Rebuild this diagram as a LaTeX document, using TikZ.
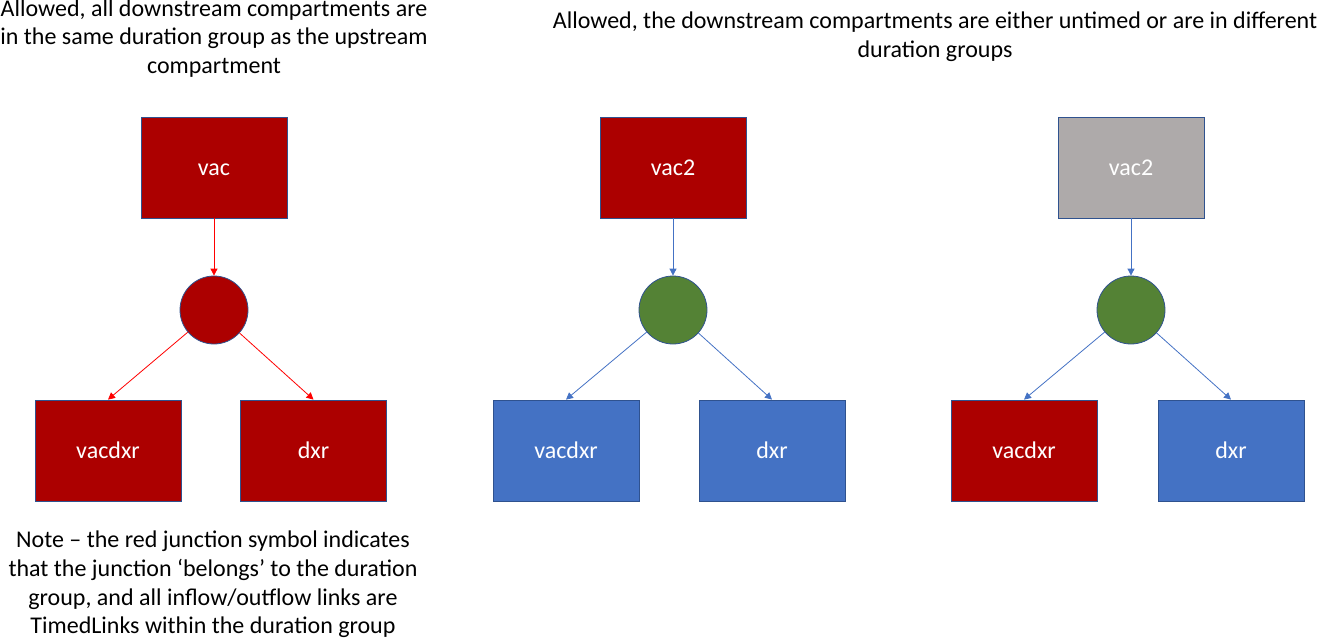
\documentclass[tikz,border=0pt]{standalone}
\usepackage{fontspec}
\setmainfont{Carlito}
\usetikzlibrary{arrows.meta}
\definecolor{dred}{HTML}{AC0000}
\definecolor{mblue}{HTML}{4472C4}
\definecolor{mgreen}{HTML}{548235}
\definecolor{mgray}{HTML}{AEAAAA}
\definecolor{edge}{HTML}{2F528F}
\begin{document}
\begin{tikzpicture}[x=1pt,y=-1pt,
  comp/.style={draw=edge,line width=0.8pt,minimum width=146pt,minimum height=101pt,inner sep=0pt,text=white,text height=17pt,text depth=2pt,font=\fontsize{24}{28}\selectfont},
  junc/.style={circle,draw=edge,line width=0.8pt,minimum size=68pt,inner sep=0pt},
  lnk/.style={line width=0.8pt,-{Triangle[length=7pt,width=7pt]}},
  captext/.style={align=center,font=\fontsize{24}{28.8}\selectfont,inner sep=0pt}]
\useasboundingbox (0,0) rectangle (1318,640);
% group 1
\node[comp,fill=dred] (vac) at (214,167.5) {vac};
\node[junc,fill=dred] (j1) at (214,310) {};
\node[comp,fill=dred] (vd1) at (108,450.5) {vacdxr};
\node[comp,fill=dred] (dx1) at (313.5,450.5) {dxr};
\draw[lnk,red] (vac) -- (j1);
\draw[lnk,red] (j1) -- (vd1.north);
\draw[lnk,red] (j1) -- (dx1.north);
% group 2
\node[comp,fill=dred] (vac2a) at (673,167.5) {vac2};
\node[junc,fill=mgreen] (j2) at (673,310) {};
\node[comp,fill=mblue] (vd2) at (566,450.5) {vacdxr};
\node[comp,fill=mblue] (dx2) at (772,450.5) {dxr};
\draw[lnk,mblue] (vac2a) -- (j2);
\draw[lnk,mblue] (j2) -- (vd2.north);
\draw[lnk,mblue] (j2) -- (dx2.north);
% group 3
\node[comp,fill=mgray] (vac2b) at (1131,167.5) {vac2};
\node[junc,fill=mgreen] (j3) at (1131,310) {};
\node[comp,fill=dred] (vd3) at (1024,450.5) {vacdxr};
\node[comp,fill=mblue] (dx3) at (1231,450.5) {dxr};
\draw[lnk,mblue] (vac2b) -- (j3);
\draw[lnk,mblue] (j3) -- (vd3.north);
\draw[lnk,mblue] (j3) -- (dx3.north);
% captions
\node[captext] (t1) at (214,38.5) {Allowed, all downstream compartments are\\in the same duration group as the upstream\\compartment};
\node[captext] (t2) at (935,37) {Allowed, the downstream compartments are either untimed or are in different\\duration groups};
\node[captext] (t3) at (213,584.5) {Note – the red junction symbol indicates\\that the junction ‘belongs’ to the duration\\group, and all inflow/outflow links are\\TimedLinks within the duration group};
\end{tikzpicture}
\end{document}
